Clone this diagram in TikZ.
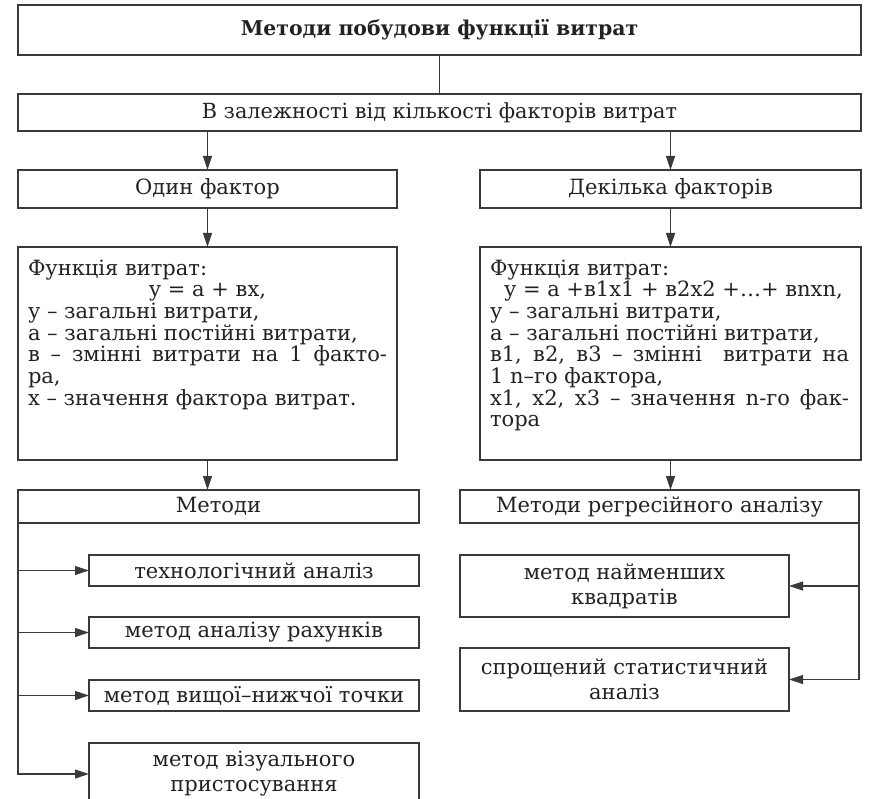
\documentclass[tikz,border=0pt]{standalone}
\usepackage{fontspec}
\setmainfont{DejaVu Serif}
\usetikzlibrary{arrows.meta,positioning}
\definecolor{ink}{HTML}{222222}
\definecolor{frame}{HTML}{3A3A3A}

\begin{document}
\begin{tikzpicture}[
  x=1pt, y=1pt, >={Triangle[length=14pt,width=9pt]},
  font=\fontsize{21}{21.7}\selectfont, text=ink,
  box/.style={draw=frame, line width=1.2pt, inner sep=0pt, outer sep=0pt, align=center},
  twoline/.style={box, font=\fontsize{21}{25}\selectfont},
  funcbox/.style={draw=frame, line width=1.2pt, inner xsep=10pt, inner ysep=0pt, outer sep=0pt},
  link/.style={draw=frame, line width=1.2pt},
  arr/.style={link, ->},
]
  \useasboundingbox (0,0) rectangle (870,-799);
  \clip (0,0) rectangle (870,-799);

  \node[box, minimum width=843pt, minimum height=50pt, anchor=north west,
    font=\bfseries\fontsize{20.4}{22}\selectfont] (title) at (18,-5)
    {Методи побудови функції витрат};
  \node[box, minimum width=843pt, minimum height=37pt, below=39pt of title,
    font=\fontsize{20.8}{22}\selectfont] (dep)
    {В залежності від кількості факторів витрат};

  \node[box, minimum width=379pt, minimum height=38pt,
    below=39pt of dep.south west, anchor=north west] (one) {Один фактор};
  \node[box, minimum width=381pt, minimum height=38pt,
    below=39pt of dep.south east, anchor=north east] (many) {Декілька факторів};

  \node[funcbox, below=39pt of one.south west, anchor=north west] (fone)
    {\parbox[c][213pt][t]{359pt}{\rule{0pt}{28pt}Функція витрат:\\
    \makebox[359pt]{у = а + вх,}\\
    у – загальні витрати,\\
    а – загальні постійні витрати,\\
    \makebox[359pt][s]{в – змінні витрати на 1 факто-}\\
    ра,\\
    х – значення фактора витрат.}};
  \node[funcbox, below=39pt of many.south east, anchor=north east] (fmany)
    {\parbox[c][213pt][t]{361pt}{\rule{0pt}{28pt}Функція витрат:\\
    \hspace*{14pt}у = а +в1х1 + в2х2 +…+ вnхn,\\
    у – загальні витрати,\\
    а – загальні постійні витрати,\\
    \makebox[359pt][s]{в1, в2, в3 – змінні \ витрати на}\\
    1 n–го фактора,\\
    \makebox[359pt][s]{х1, х2, х3 – значення n-го фак-}\\
    тора}};

  \node[box, minimum width=401pt, minimum height=33pt,
    below=30pt of fone.south west, anchor=north west] (meth) {Методи};
  \node[box, minimum width=399pt, minimum height=33pt,
    below=30pt of fmany.south east, anchor=north east, xshift=-2pt] (regr)
    {Методи регресійного аналізу};

  % one factor: methods
  \node[box, minimum width=330pt, minimum height=31pt,
    below=32pt of meth.south east, anchor=north east] (tech) {технологічний аналіз};
  \node[box, minimum width=330pt, minimum height=31pt,
    below=31pt of tech.south east, anchor=north east] (acct) {метод аналізу рахунків};
  \node[box, minimum width=330pt, minimum height=31pt,
    below=32pt of acct.south east, anchor=north east] (hilo) {метод вищої–нижчої точки};
  \node[twoline, minimum width=330pt, minimum height=62pt,
    below=32pt of hilo.south east, anchor=north east] (vis)
    {метод візуального\\пристосування};

  % several factors: regression
  \node[twoline, minimum width=329pt, minimum height=62pt,
    below=32pt of regr.south west, anchor=north west] (lsq)
    {метод найменших\\квадратів};
  \node[twoline, minimum width=329pt, minimum height=63pt,
    below=31pt of lsq.south west, anchor=north west] (stat)
    {спрощений статистичний\\аналіз};

  \draw[link] (title) -- (dep);
  \draw[arr] (dep.south -| one) -- (one);
  \draw[arr] (dep.south -| many) -- (many);
  \draw[arr] (one) -- (fone);
  \draw[arr] (many) -- (fmany);
  \draw[arr] (fone.south) -- (fone.south |- meth.north);
  \draw[arr] (fmany.south) -- (fmany.south |- regr.north);

  \draw[arr] (meth.south west) |- (vis.west);
  \draw[arr] (meth.south west |- tech) -- (tech);
  \draw[arr] (meth.south west |- acct) -- (acct);
  \draw[arr] (meth.south west |- hilo) -- (hilo);

  \draw[arr] (regr.south east) |- (stat.east);
  \draw[arr] (regr.south east |- lsq) -- (lsq);
\end{tikzpicture}
\end{document}
